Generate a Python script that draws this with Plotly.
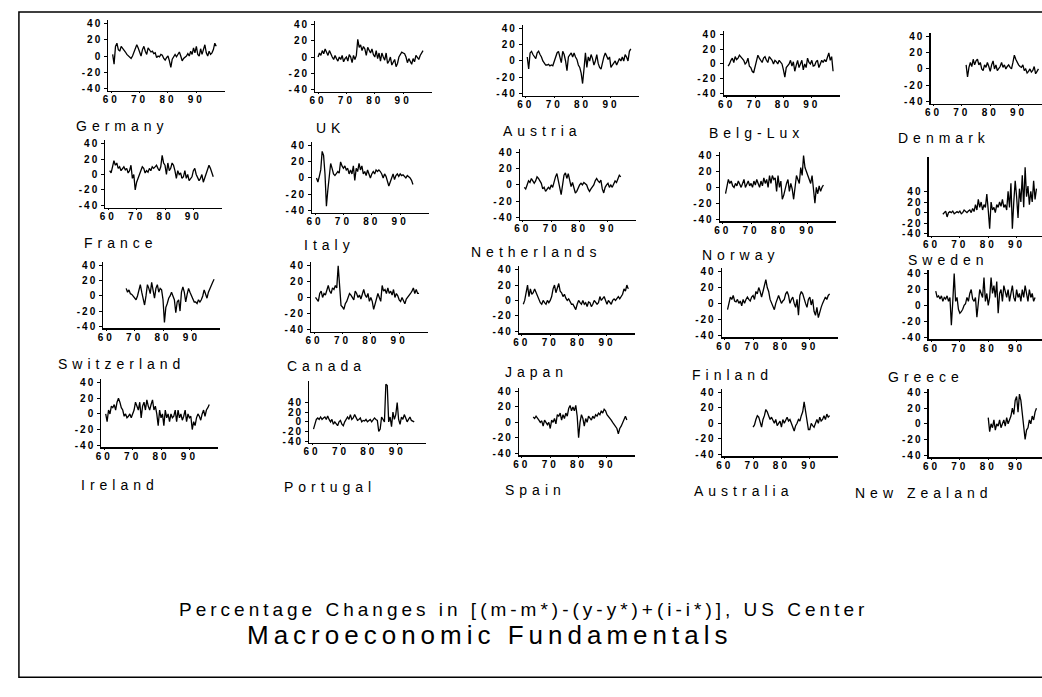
import plotly.graph_objects as go

W, H = 1042, 697

# ---------------- data (half-year steps from each start year) ----------------
germany_start = 60.5
germany = [2, -10, 12, 16, 8, 6, 12, 10, 8, 5,
           2, 0, -2, -3, 0, 5, 8, 14, 10, 4,
           0, 8, 12, 6, 2, 10, 8, 5, 6, 3,
           4, -2, 0, -1, 2, 1, -3, -5, -2, 0,
           -6, -14, -4, 0, 2, -1, 3, 5, 0, -6,
           -3, -2, 0, 3, 0, 6, 2, 10, 4, 12,
           2, 0, 9, 2, 10, 14, 4, 0, 6, 2,
           4, 8, 16, 12]

uk_start = 60.0
uk = [0, 5, 2, 8, 4, 10, 6, 2, 8, 3,
      0, -3, 2, -2, -5, 0, -3, 2, -6, -2,
      0, -5, 3, 0, -7, 2, -3, 2, 22, 12,
      15, 8, 13, 10, 2, 12, 8, 5, 10, 3,
      0, 8, -2, 5, -5, 5, 0, -4, 5, -8,
      -5, 0, -10, -6, -3, -12, -8, 0, 3, 6,
      5, 4, 0, -7, -2, -5, -9, -2, -6, 2,
      0, -3, 2, 6, 8]

austria_start = 60.5
austria = [5, -10, 10, 12, 8, 5, 3, 10, 12, 8,
           5, 0, -3, -5, -5, -4, -6, -5, -6, 0,
           5, 10, 12, 5, -2, 12, 8, 0, -12, 5,
           8, 10, 5, 10, 5, 2, -5, -8, -15, -28,
           -10, 10, -8, 5, 0, 8, 3, -5, 0, 8,
           -3, -8, -10, 0, 5, 10, 6, 2, 5, -8,
           -5, -2, 0, -5, 0, 3, 0, 5, 0, 8,
           5, 0, 12, 15]

belglux_start = 60.5
belglux = [-3, 0, 5, 8, 2, 10, 6, 8, 12, 10,
           8, 5, 0, 2, 8, -3, -5, -10, -12, -3,
           5, 12, 8, 5, 2, 8, 10, 5, 2, 10,
           8, 5, 0, 5, 3, 0, 5, 2, 0, -8,
           -18, -5, -2, 0, 5, -3, 3, -10, -2, 5,
           -5, 0, 5, -8, 0, -5, 8, 2, 0, 5,
           -3, -2, 3, 5, -5, 0, 5, 2, 6, 3,
           8, 15, 5, 10, -10]

denmark_start = 71.5
denmark = [5, -10, 2, 8, 3, 12, 5, 10, 12, 5,
           8, 0, -2, 5, 2, 8, 3, -3, 5, 10,
           0, 5, -2, 0, 3, 8, 2, 5, 0, 3,
           5, 2, 0, 8, 17, 12, 8, 5, 3, 2,
           5, -2, 0, -5, -3, 0, -4, -2, 3, -6,
           -3, 0]

france_start = 60.5
france = [5, 2, 10, 18, 12, 15, 8, 10, 5, 8,
          10, 6, 8, 2, 5, 12, -5, 0, -20, -10,
          -5, 2, 5, 10, 8, 2, 5, 3, 8, 5,
          10, 8, 10, 12, 8, 5, 10, 25, 15, 12,
          0, 15, 5, 8, 15, 12, 5, -5, 5, 0,
          2, -5, -3, 5, -5, 0, -8, -5, -3, 5,
          8, 0, -5, -8, -5, 0, -10, -5, 0, 5,
          12, 8, 2, -3]

italy_start = 60.5
italy = [0, -5, 2, 10, 33, 28, 5, -35, -15, 5,
         18, 12, 5, 3, 5, 8, 6, 20, 15, 12,
         15, 10, 12, 5, 10, 5, 15, -3, 12, 8,
         18, 10, 15, 5, 8, 3, 10, 5, 0, 5,
         8, 5, 10, 8, 10, 8, 5, 0, 5, 2,
         -3, -10, -5, 0, 5, -2, 3, 5, 2, 5,
         3, 4, 2, 0, 3, 2, 0, -3, -8]

netherlands_start = 60.5
netherlands = [-3, -5, 0, 5, 3, 8, 5, 2, 5, 10,
               8, 5, 2, -5, -3, -8, -5, -3, -5, 0,
               -3, 5, 10, 14, 5, -2, -12, 0, 12, 15,
               8, 14, 5, -2, 3, -5, -10, -8, -3, 0,
               2, 0, 3, 2, 0, -5, -8, -5, -3, 0,
               5, 8, 5, 3, 6, -5, -10, -3, 0, 2,
               -3, 0, -3, 2, 5, 3, 8, 12, 10]

norway_start = 61.0
norway = [-8, 0, 10, 5, 8, 2, 0, 5, 2, 8,
          3, 0, 5, 10, 0, 5, 8, 2, 5, 0,
          8, 3, 10, 5, 0, 8, 2, 12, 5, 10,
          0, 15, 5, 15, 10, 12, -5, 15, 0, 8,
          -15, -10, 0, 5, 10, -5, 5, -2, -15, 5,
          15, 10, 5, 25, 15, 40, 25, 20, 15, 10,
          5, 15, -5, -20, 0, -8, 2, -5, 0, 3]

sweden_start = 64.0
sweden = [-3, 0, 3, -8, 0, 2, 0, 3, -2, 0,
          2, 0, 3, -2, 0, 5, 2, 0, 3, 5,
          0, 8, 2, 15, 5, 25, 10, 20, 5, 15,
          10, 35, 5, -30, 20, 5, 10, 0, 15, 10,
          20, 12, 25, 10, 15, 5, 40, 10, 55, -30,
          20, 60, 30, -10, 45, 20, 70, 10, 85, 30,
          50, 15, 40, 20, 60, 25, 45]

switzerland_start = 67.0
switzerland = [10, 5, 8, 3, 2, 0, -3, -5, 0, 10,
               15, 5, -5, -12, 0, 15, 10, 3, 18, 5,
               -3, 10, 15, 5, 10, 8, -5, -35, -15, -10,
               -3, 0, 5, 0, -5, -22, -8, -5, -20, 5,
               12, 5, -8, 2, 10, 5, 0, -5, -8, -8,
               -10, -5, -8, -5, 0, 8, 2, -3, 5, 10,
               15, 18, 22]

canada_start = 60.5
canada = [0, -3, -5, 5, 8, 0, 5, 3, 10, 15,
          8, 5, 12, 10, 15, 12, 40, 20, -10, -12,
          -15, -8, -5, 0, 5, 3, 0, -3, 8, 5,
          0, 3, -2, 5, 10, 3, 0, 5, -5, 0,
          -5, -15, -8, 0, 5, 0, -5, 15, 8, 10,
          5, 12, 5, 8, 3, 10, 0, 5, 2, -3,
          -5, 0, -5, -8, -2, 0, 3, 5, 8, 12,
          5, 10, 5, 5]

japan_start = 60.5
japan = [-5, 0, 10, 20, 5, 15, 8, 10, 15, 10,
         5, 0, -3, -5, 0, -3, -5, 0, -3, 0,
         5, 15, 20, 10, 15, 22, 12, 10, 5, 8,
         3, 0, 2, -2, -5, -5, -8, -12, -5, 0,
         -3, -5, 0, -5, -3, -8, -2, -3, -8, -5,
         0, -3, -5, -3, 5, 0, 2, 5, 0, -5,
         0, -3, -5, 0, 2, 0, 3, 5, 2, 5,
         8, 15, 12, 20, 15]

finland_start = 61.0
finland = [-8, 0, 8, 5, 10, 3, 2, 5, 0, 3,
           -3, 5, 0, 5, 8, 5, 3, 8, 10, 5,
           15, 12, 20, 15, 8, 15, 25, 30, 20, 15,
           5, 0, -5, -8, 0, 5, 10, 5, 0, 3,
           5, 12, 15, 10, 0, 5, 8, 0, -5, 5,
           -15, 10, 15, 12, 5, 0, -5, 5, 8, -2,
           5, -10, -15, -5, -18, -10, -5, 0, 5, 8,
           5, 10, 12]

greece_start = 61.5
greece = [18, 10, 12, 8, 12, 5, 10, 8, 12, 5,
          10, -25, 5, 40, 5, 10, -5, -10, -8, -5,
          0, 2, 10, 5, 15, 20, 8, 5, 10, -15,
          3, 20, 15, 10, 35, 5, 15, 0, 10, 35,
          15, 25, 10, 30, -10, 15, 20, 5, 25, 15,
          10, 20, 5, 15, 25, 10, 5, 20, 10, 15,
          5, 20, 10, 25, 15, 5, 20, 10, 15, 5, 10]

ireland_start = 60.5
ireland = [0, -10, 5, 0, 10, 8, 12, 5, 15, 20,
           15, 8, 5, -3, 0, -5, -3, 0, -5, 0,
           5, 15, 10, 5, 15, -5, 10, 15, 5, 18,
           10, 5, 12, 18, 5, 10, 0, -15, 5, -5,
           0, -15, 5, -5, 0, -10, 0, -5, -3, 5,
           -10, 5, -5, 0, -8, -3, 5, -10, 0, -5,
           -3, -20, -10, -15, -5, 0, -3, -8, 0, 5,
           -3, 5, 8, 12]

portugal_start = 60.5
portugal = [-15, -5, 5, 8, 5, 10, 5, 8, 10, 5,
            12, 5, 0, 5, -5, 0, -3, -8, 0, 3,
            -5, -8, 0, 5, 10, 5, 15, 5, 8, 15,
            10, 3, 5, 8, 0, 3, 2, 5, 0, 3,
            5, 0, 3, 8, 5, 3, -20, -15, 10, 5,
            0, 78, 75, 0, 10, -10, 20, 5, 15, 40,
            5, -5, 10, 5, 15, 8, 0, 5, 10, 3,
            2, 0]

spain_start = 64.0
spain = [7, 5, 8, 6, 3, 0, 2, -5, 3, 0,
         -3, 0, -8, 3, 0, 5, -2, 10, 8, 12,
         3, 10, 5, 12, 8, 18, 22, 15, 20, 15,
         22, 8, -20, 0, 10, 5, -5, 5, 0, 8,
         5, 3, 8, 5, 10, 8, 12, 10, 15, 12,
         17, 15, 10, 8, 5, 3, 0, -3, -5, -8,
         -15, -8, -5, 0, 5, 8, 3]

australia_start = 70.0
australia = [-5, -2, 5, 10, 8, 0, -5, 5, 10, 18,
             15, 10, 5, 8, 3, 0, 5, -3, 0, 3,
             -5, 5, 0, 5, 8, 3, 5, 0, -5, -10,
             -3, 0, 5, 3, 10, 15, 28, 15, 5, -8,
             -8, 0, -3, -5, 0, 5, 0, 8, 3, 5,
             10, 5, 12, 8, 10]

newzealand_start = 80.0
newzealand = [8, -10, 0, -5, 5, -8, 0, -3, 5, -5,
              0, 5, -3, 8, 0, 5, 10, 20, 12, 30,
              35, 15, 38, 30, 10, -5, -20, -8, -5, 5,
              0, 10, 5, 15, 20]

country_names = ["Germany", "UK", "Austria", "Belg-Lux", "Denmark",
                 "France", "Italy", "Netherlands", "Norway", "Sweden",
                 "Switzerland", "Canada", "Japan", "Finland", "Greece",
                 "Ireland", "Portugal", "Spain", "Australia", "New Zealand"]
series = [germany, uk, austria, belglux, denmark,
          france, italy, netherlands, norway, sweden,
          switzerland, canada, japan, finland, greece,
          ireland, portugal, spain, australia, newzealand]
start_years = [germany_start, uk_start, austria_start, belglux_start, denmark_start,
               france_start, italy_start, netherlands_start, norway_start, sweden_start,
               switzerland_start, canada_start, japan_start, finland_start, greece_start,
               ireland_start, portugal_start, spain_start, australia_start, newzealand_start]

x_tick_vals = [60, 70, 80, 90]
x_tick_text = ["60", "70", "80", "90"]
y_tick_vals = [-40, -20, 0, 20, 40]
y_tick_text = ["-40", "-20", "0", "20", "40"]

subtitle = "Percentage Changes in [(m-m*)-(y-y*)+(i-i*)], US Center"
title = "Macroeconomic Fundamentals"

# ---------------- layout geometry (pixels) ----------------
panel_left = [103, 311, 520, 722, 930,
              100, 308, 517, 718, 928,
              98, 307, 516, 720, 928,
              96, 305, 516, 720, 928]
panel_w = 117
# pixel y of value +40 and value -40 per panel
y_px = [(22, 87), (23, 88), (27, 92), (33, 92), (35, 100),
        (143, 205), (145, 210), (152, 217), (155, 219), (191, 234),
        (266, 327), (266, 330), (270, 332), (272, 336), (274, 338),
        (384, 447), (404, 443), (393, 455), (394, 456), (394, 457)]
y_top_val = [45] * 20
y_top_val[9] = 105   # Sweden
y_top_val[16] = 84   # Portugal
y_bot_val = -43
label_pos = [(68, 125), (310, 127), (498, 130), (705, 132), (895, 137),
             (76, 243), (298, 245), (466, 252), (698, 255), (905, 260),
             (50, 365), (281, 367), (500, 373), (688, 376), (885, 378),
             (73, 487), (278, 489), (500, 492), (690, 493), (852, 495)]

X0, X1 = 59, 100

def sp(text, px):
    return '<span style="letter-spacing:%dpx">%s</span>' % (px, text)

fig = go.Figure()
layout = dict(width=W, height=H, margin=dict(l=0, r=0, t=0, b=0),
              paper_bgcolor="white", plot_bgcolor="white", showlegend=False)

tickfont = dict(family="Liberation Sans, Arial", size=10, color="black", weight="bold")

for i in range(20):
    left = panel_left[i]
    right = left + panel_w
    xr = [X0, X1]
    if right > W:
        xr = [X0, X0 + (X1 - X0) * (W - left) / panel_w]
        right = W
    y40, ym40 = y_px[i]
    k = (ym40 - y40) / 80.0
    top_px = y40 - (y_top_val[i] - 40) * k
    bot_px = ym40 + (-40 - y_bot_val) * k
    n = "" if i == 0 else str(i + 1)
    layout["xaxis" + n] = dict(
        domain=[left / W, right / W], range=xr, anchor="y" + n,
        showline=True, linecolor="black", linewidth=1.2, showgrid=False, zeroline=False,
        ticks="outside", ticklen=1, tickcolor="black", ticklabelstandoff=-2,
        tickvals=x_tick_vals, ticktext=[sp(t, 3) for t in x_tick_text],
        tickfont=tickfont, fixedrange=True)
    layout["yaxis" + n] = dict(
        domain=[1 - bot_px / H, 1 - top_px / H], range=[y_bot_val, y_top_val[i]],
        anchor="x" + n,
        showline=True, linecolor="black", linewidth=1.2, showgrid=False, zeroline=False,
        ticks="outside", ticklen=3, tickcolor="black",
        tickvals=y_tick_vals, ticktext=[sp(t, 2) for t in y_tick_text],
        tickfont=tickfont, fixedrange=True)
    vals = series[i]
    years = [start_years[i] + 0.5 * j for j in range(len(vals))]
    fig.add_trace(go.Scatter(x=years, y=vals, mode="lines",
                             line=dict(color="black", width=1.3),
                             xaxis="x" + n, yaxis="y" + n, hoverinfo="skip"))

annotations = []
for i, name in enumerate(country_names):
    lx, ly = label_pos[i]
    annotations.append(dict(text=sp(name, 5), x=lx / W, y=1 - ly / H,
                            xref="paper", yref="paper", xanchor="left", yanchor="middle",
                            showarrow=False,
                            font=dict(family="Liberation Sans, Arial", size=14, color="black")))
annotations.append(dict(text=sp(subtitle, 4), x=172 / W, y=1 - 613 / H,
                        xref="paper", yref="paper", xanchor="left", yanchor="middle",
                        showarrow=False,
                        font=dict(family="Liberation Sans, Arial", size=19, color="black")))
annotations.append(dict(text=sp(title, 5), x=240 / W, y=1 - 638 / H,
                        xref="paper", yref="paper", xanchor="left", yanchor="middle",
                        showarrow=False,
                        font=dict(family="Liberation Sans, Arial", size=26, color="black")))
layout["annotations"] = annotations
layout["shapes"] = [dict(type="rect", xref="paper", yref="paper",
                         x0=13 / W, x1=1.05, y0=1 - 681 / H, y1=1 - 10 / H,
                         line=dict(color="black", width=1.5), fillcolor="rgba(0,0,0,0)")]

fig.update_layout(**layout)
fig.write_html("out.html",
               config={"displayModeBar": False, "staticPlot": True},
               post_script="document.body.style.margin='0px';"
                           "document.body.style.padding='0px';"
                           "document.body.style.overflow='hidden';")
